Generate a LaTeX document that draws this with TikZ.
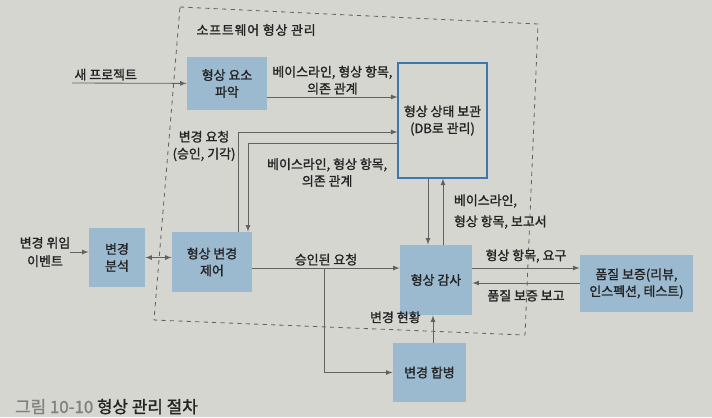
\documentclass[tikz,border=0pt]{standalone}
\usepackage{fontspec}
\setmainfont{Noto Sans CJK KR}[RawFeature={embolden=1.4}]
\usetikzlibrary{arrows}
\definecolor{page}{RGB}{214,214,209}
\definecolor{boxblue}{RGB}{155,185,207}
\definecolor{dbline}{RGB}{62,118,176}
\definecolor{wire}{RGB}{98,98,98}
\definecolor{ink}{RGB}{35,35,35}

\begin{document}
\begin{tikzpicture}[x=0.025cm,y=-0.025cm,->,>=latex,color=wire,line width=0.6pt,
  lbl/.style={text=ink,font=\fontsize{9.2}{12}\selectfont,align=center,inner sep=1.5pt},
  box/.style={lbl,fill=boxblue},
  dbbox/.style={lbl,draw=dbline,line width=0.8pt}]
  \clip (0,0) rectangle (712,417);
  \fill[-,page] (0,0) rectangle (712,417);
  \draw[-,dashed] (180,7) -- (538,24) -- (525,335) -- (154,320) -- cycle;
  \node[lbl,anchor=west,font=\fontsize{9.2}{12}\selectfont\addfontfeature{LetterSpace=6}] (title) at (194,30) {소프트웨어 형상 관리};
  \node[box,minimum width=2cm,minimum height=1.325cm] (elem) at (227,83.5) {형상 요소\\파악};
  \node[dbbox,minimum width=2.225cm,minimum height=2.875cm] (db) at (442.5,120.5) {형상 상태 보관\\(DB로 관리)};
  \node[box,minimum width=1.4cm,minimum height=1.475cm] (anal) at (117,257.5) {변경\\분석};
  \node[box,minimum width=2cm,minimum height=1.5cm] (ctrl) at (212,262) {형상 변경\\제어};
  \node[box,minimum width=1.8cm,minimum height=1.75cm] (audit) at (436,280) {형상 감사};
  \node[box,minimum width=2.825cm,minimum height=1.425cm] (qa) at (636.5,283.5) {품질 보증(리뷰,\\인스펙션, 테스트)};
  \node[box,minimum width=1.825cm,minimum height=1.475cm] (merge) at (429.5,372.5) {변경 합병};
  \node[lbl] (event) at (45,252) {변경 위임\\[1pt]이벤트};
  \coordinate (np) at (72,83);
  \coordinate (br) at (324,268);
  \draw (np) -- node[lbl,above right,pos=0] {새 프로젝트} (elem);
  \draw (elem.east |- 0,97) -- node[lbl,above] {베이스라인, 형상 항목,\\의존 관계} (db.west |- 0,97);
  \draw (238,0 |- ctrl.north) |- node[lbl,left,pos=0.43] {변경 요청\\(승인, 기각)} (db.west |- 0,132);
  \draw (db.west |- 0,143) -| node[lbl,below=9pt,pos=0.235] {베이스라인, 형상 항목,\\의존 관계} (248,0 |- ctrl.north);
  \draw (428,0 |- db.south) -- (428,0 |- audit.north);
  \draw (443,0 |- audit.north) -- node[lbl,right=6pt,align=left] {베이스라인,\\[3pt]형상 항목, 보고서} (443,0 |- db.south);
  \draw[shorten <=-2pt] (event) -- (event -| anal.west);
  \draw[<->] (anal.east) -- (anal.east -| ctrl.west);
  \draw (ctrl.east |- 0,268) -- node[lbl,above] {승인된 요청} (audit.west |- 0,268);
  \draw (br) |- (merge);
  \draw (433,0 |- merge.north) -- node[lbl,left=7pt,pos=0.93] {변경 현황} (433,0 |- audit.south);
  \draw (audit.east |- 0,268) -- node[lbl,above=2pt] {형상 항목, 요구} (qa.west |- 0,268);
  \draw (qa.west |- 0,283) -- node[lbl,below=3pt] {품질 보증 보고} (audit.east |- 0,283);
  \node[anchor=base west,text=ink,font=\fontsize{12}{14}\selectfont] (cap) at (10,413) {\textcolor{gray}{그림 10-10} 형상 관리 절차};
\end{tikzpicture}
\end{document}
